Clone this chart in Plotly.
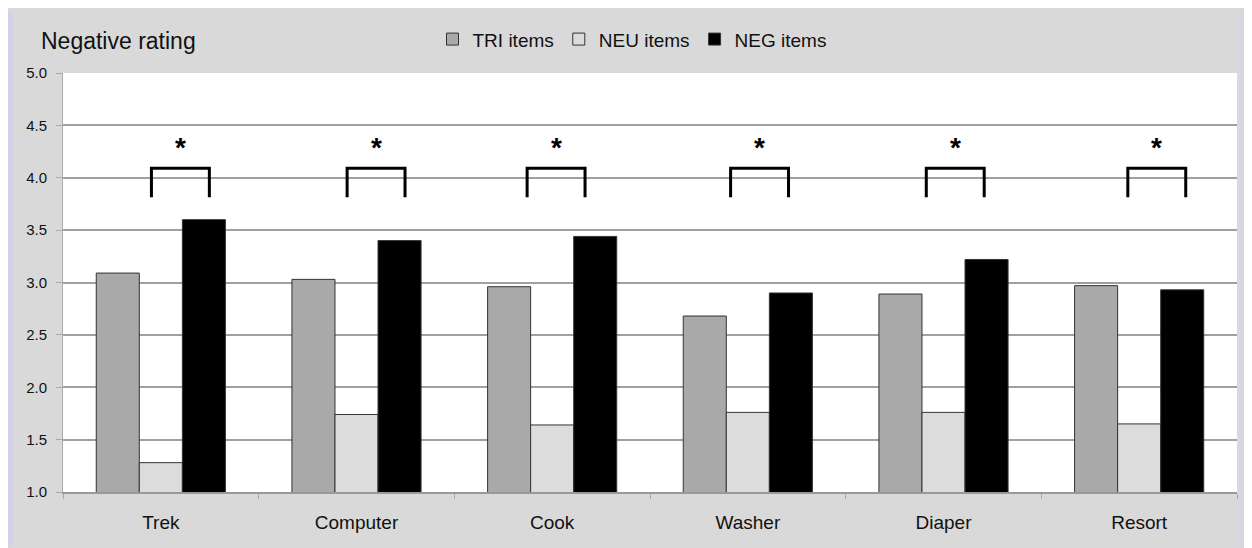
import plotly.graph_objects as go

categories = ["Trek", "Computer", "Cook", "Washer", "Diaper", "Resort"]
tri_items = [3.09, 3.03, 2.96, 2.68, 2.89, 2.97]
neu_items = [1.28, 1.74, 1.64, 1.76, 1.76, 1.65]
neg_items = [3.60, 3.40, 3.44, 2.90, 3.22, 2.93]
series_names = ["TRI items", "NEU items", "NEG items"]
y_ticks = [1.0, 1.5, 2.0, 2.5, 3.0, 3.5, 4.0, 4.5, 5.0]
# significance brackets: offset of bracket centre from category centre (category units)
bracket_offsets = [0.10, 0.10, 0.02, 0.06, 0.06, 0.09]
bracket_halfwidth = 0.148
bracket_top = 4.09
bracket_bottom = 3.815
star_y = 4.29

# page has an 8px body margin, so the figure is 8px smaller
W, H = 1244, 540
L, R, T, B = 55, 15, 62, 56

fig = go.Figure()
colors = ["#a9a9a9", "#dcdcdc", "#000000"]
for name, vals, c in zip(series_names, [tri_items, neu_items, neg_items], colors):
    fig.add_trace(go.Bar(
        x=categories, y=vals, name=name,
        marker=dict(color=c, line=dict(color="#333333", width=1)),
    ))

shapes = []
annotations = []
for i, off in enumerate(bracket_offsets):
    xc = i + off
    x0, x1 = xc - bracket_halfwidth, xc + bracket_halfwidth
    shapes.append(dict(
        type="path", xref="x", yref="y",
        path=f"M {x0},{bracket_bottom} L {x0},{bracket_top} L {x1},{bracket_top} L {x1},{bracket_bottom}",
        line=dict(color="#000000", width=3),
    ))
    annotations.append(dict(
        x=xc, y=star_y, xref="x", yref="y", text="<b>*</b>", showarrow=False,
        font=dict(size=28, color="#000000", family="Liberation Sans, Arial"),
    ))

pw = W - L - R
ph = H - T - B
def px(xpix):
    return (xpix - L) / pw
def py(ypix):
    return (H - B - ypix) / ph

# lavender edges of the frame
shapes.append(dict(type="rect", xref="paper", yref="paper", x0=px(0), x1=px(5), y0=py(H), y1=py(0),
                   fillcolor="#d4d2e8", line=dict(width=0), layer="below"))
shapes.append(dict(type="rect", xref="paper", yref="paper", x0=px(1232), x1=px(W), y0=py(H), y1=py(0),
                   fillcolor="#d6d6e2", line=dict(width=0), layer="below"))

annotations.append(dict(
    x=px(31), y=py(30), xref="paper", yref="paper", xanchor="left", yanchor="middle",
    text="Negative rating", showarrow=False,
    font=dict(size=23, color="#111111", family="Liberation Sans, Arial"),
))

fig.update_layout(
    width=W, height=H,
    margin=dict(l=L, r=R, t=T, b=B),
    paper_bgcolor="#d9d9d9",
    plot_bgcolor="#ffffff",
    barmode="group",
    bargap=0.34,
    bargroupgap=0,
    font=dict(family="Liberation Sans, Arial", color="#111111"),
    showlegend=True,
    legend=dict(
        orientation="h", x=px(624), xanchor="center", y=py(28), yanchor="middle",
        font=dict(size=19, color="#111111"), bgcolor="rgba(0,0,0,0)",
        itemwidth=30, tracegroupgap=0,
    ),
    shapes=shapes,
    annotations=annotations,
    xaxis=dict(
        type="category", showgrid=False, showline=True, linecolor="#999999", linewidth=1.5,
        ticks="outside", tickson="boundaries", ticklen=5, tickcolor="#aaaaaa",
        tickfont=dict(size=19, color="#111111"), range=[-0.5, 5.5],
        ticklabelstandoff=12,
    ),
    yaxis=dict(
        range=[1.0, 5.0], tickvals=y_ticks, ticktext=[f"{v:.1f}" for v in y_ticks],
        showgrid=True, gridcolor="#a0a0a0", gridwidth=1.5,
        showline=True, linecolor="#aaaaaa", linewidth=1,
        ticks="outside", ticklen=6, tickcolor="#aaaaaa",
        tickfont=dict(size=15, color="#111111"), zeroline=False,
        ticklabelstandoff=6,
    ),
)

fig.write_html("out.html")
